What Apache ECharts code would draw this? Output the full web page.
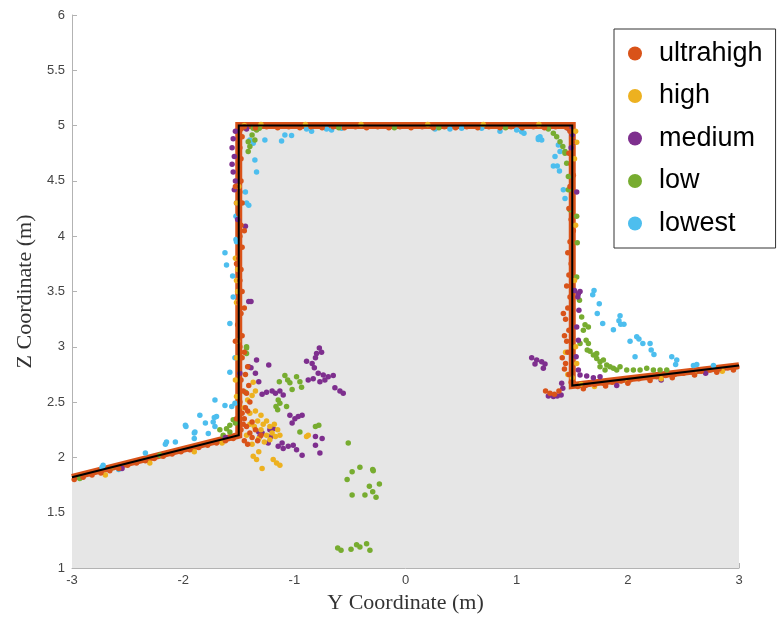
<!DOCTYPE html>
<html>
<head>
<meta charset="utf-8">
<script src="https://cdn.jsdelivr.net/npm/echarts@6/dist/echarts.min.js"></script>
<style>
	html, body { margin: 0; padding: 0; background: #fff; }
	#chart { width: 782px; height: 619px; }
</style>
</head>
<body>
<div id="chart"></div>
<script>
// building outline (y, z)
var outline = [[-3, 1.82], [-1.5, 2.2], [-1.5, 5.0], [1.5, 5.0], [1.5, 2.65], [3, 2.83]];

var ultrahigh = [
	[-2.98, 1.80], [-2.9, 1.82], [-2.82, 1.84], [-2.74, 1.86], [-2.66, 1.88], [-2.58, 1.90], [-2.5, 1.93],
	[-2.42, 1.95], [-2.34, 1.97], [-2.26, 1.99], [-2.18, 2.01], [-2.1, 2.03], [-2.02, 2.05], [-1.94, 2.07],
	[-1.86, 2.09], [-1.78, 2.11], [-1.7, 2.13], [-1.62, 2.15], [-1.55, 2.17],
	[-1.48, 2.25], [-1.46, 2.3], [-1.47, 2.4], [-1.49, 2.5], [-1.46, 2.6], [-1.48, 2.7], [-1.5, 2.8],
	[-1.47, 2.9], [-1.49, 3.0], [-1.47, 3.1], [-1.51, 3.2], [-1.48, 3.3], [-1.5, 3.4], [-1.47, 3.5],
	[-1.49, 3.6], [-1.48, 3.7], [-1.5, 3.8], [-1.47, 3.9], [-1.49, 4.0], [-1.48, 4.1], [-1.5, 4.2],
	[-1.47, 4.3], [-1.49, 4.4], [-1.48, 4.5], [-1.5, 4.6], [-1.48, 4.7], [-1.49, 4.8], [-1.47, 4.9],
	[-1.48, 4.97], [-1.52, 2.35], [-1.44, 2.45], [-1.53, 3.05], [-1.45, 3.35], [-1.52, 3.75],
	[-1.45, 4.05], [-1.53, 4.45],
	[-1.45, 4.99], [-1.35, 4.98], [-1.25, 4.99], [-1.15, 4.98], [-1.05, 4.99], [-0.95, 4.98], [-0.85, 4.99],
	[-0.75, 4.98], [-0.65, 4.99], [-0.55, 4.98], [-0.45, 4.99], [-0.35, 4.98], [-0.25, 4.99], [-0.15, 4.98],
	[-0.05, 4.99], [0.05, 4.98], [0.15, 4.99], [0.25, 4.98], [0.35, 4.99], [0.45, 4.98], [0.55, 4.99],
	[0.65, 4.98], [0.75, 4.99], [0.85, 4.98], [0.95, 4.99], [1.05, 4.98], [1.15, 4.99], [1.25, 4.98],
	[1.35, 4.99], [1.45, 4.98],
	[1.48, 4.95], [1.5, 4.85], [1.47, 4.75], [1.49, 4.65], [1.51, 4.55], [1.48, 4.45], [1.5, 4.35],
	[1.47, 4.25], [1.49, 4.15], [1.51, 4.05], [1.48, 3.95], [1.46, 3.85], [1.49, 3.75], [1.47, 3.65],
	[1.45, 3.55], [1.48, 3.45], [1.46, 3.35], [1.44, 3.25], [1.47, 3.15], [1.45, 3.05], [1.46, 2.95],
	[1.44, 2.85], [1.47, 2.75], [1.49, 2.68], [1.42, 3.3], [1.43, 3.1], [1.41, 2.9], [1.43, 2.8],
	[1.26, 2.6], [1.3, 2.58], [1.34, 2.57], [1.38, 2.6],
	[1.55, 2.64], [1.62, 2.65], [1.7, 2.66], [1.78, 2.67], [1.86, 2.68], [1.94, 2.69], [2.02, 2.70],
	[2.1, 2.71], [2.18, 2.72], [2.26, 2.73], [2.34, 2.74], [2.42, 2.75], [2.5, 2.76], [2.58, 2.77],
	[2.66, 2.78], [2.74, 2.79], [2.82, 2.8], [2.9, 2.81], [2.98, 2.82],
	[1.6, 2.62], [1.8, 2.645], [2.0, 2.67], [2.2, 2.695], [2.4, 2.72], [2.6, 2.745], [2.8, 2.77], [2.95, 2.79],
	[-1.45, 2.15], [-1.42, 2.12], [-1.38, 2.18], [-1.4, 2.22], [-1.35, 2.25], [-1.43, 2.28], [-1.38, 2.32],
	[-1.33, 2.15], [-1.3, 2.2], [-1.45, 2.35], [-1.42, 2.42], [-1.4, 2.5], [-1.43, 2.58], [-1.41, 2.65],
	[-1.44, 2.75], [-1.42, 2.82], [-1.45, 2.95]
];

var high = [
	[-1.52, 3.4], [-1.51, 3.5], [-1.52, 3.6], [-1.51, 3.7], [-1.53, 3.8], [-1.52, 4.3], [-1.5, 4.45],
	[-1.51, 3.05], [-1.52, 2.9], [-1.53, 2.7], [-1.52, 2.55],
	[-1.45, 2.45], [-1.4, 2.4], [-1.35, 2.42], [-1.3, 2.38], [-1.33, 2.33], [-1.28, 2.3], [-1.25, 2.33],
	[-1.22, 2.28], [-1.18, 2.3], [-1.15, 2.25], [-1.2, 2.22], [-1.25, 2.2], [-1.3, 2.25], [-1.36, 2.28],
	[-1.4, 2.3], [-1.32, 2.17], [-1.27, 2.14], [-1.22, 2.16], [-1.17, 2.19], [-1.13, 2.2], [-1.43, 2.2],
	[-1.38, 2.12], [-1.42, 2.52], [-1.38, 2.56], [-1.37, 2.68], [-1.35, 2.6],
	[-1.37, 2.01], [-1.34, 1.98], [-1.29, 1.9], [-1.19, 1.98], [-1.16, 1.95], [-1.13, 1.93], [-1.32, 2.05],
	[-0.89, 2.19], [-0.875, 2.2],
	[-1.3, 5.01], [-0.9, 5.01], [-0.4, 5.01], [0.2, 5.01], [0.7, 5.01], [1.2, 5.01], [-1.45, 5.0],
	[1.53, 4.95], [1.54, 4.85], [1.52, 4.7], [1.53, 4.1], [1.52, 3.6], [1.53, 3.0], [1.54, 2.85],
	[1.46, 2.75], [1.5, 2.72], [1.44, 2.95],
	[1.7, 2.64], [2.0, 2.68], [2.3, 2.71], [2.6, 2.75], [2.85, 2.78], [1.58, 2.66],
	[-2.7, 1.84], [-2.3, 1.95], [-1.9, 2.05], [-1.65, 2.13]
];

var medium = [
	[-1.53, 4.95], [-1.55, 4.88], [-1.56, 4.8], [-1.54, 4.72], [-1.56, 4.65], [-1.55, 4.58], [-1.53, 4.5],
	[-1.54, 4.42], [-1.52, 4.3], [-1.51, 4.15], [-1.44, 4.09], [-1.41, 3.41], [-1.39, 3.41],
	[-1.47, 4.98], [-1.43, 4.97], [-1.49, 2.76], [-1.41, 2.82],
	[-0.775, 2.99], [-0.8, 2.94], [-0.755, 2.95], [-0.89, 2.87], [-0.84, 2.85], [-0.81, 2.9],
	[-0.82, 2.81], [-0.785, 2.76], [-0.74, 2.745], [-0.695, 2.73], [-0.65, 2.74],
	[-0.875, 2.7], [-0.83, 2.71], [-0.77, 2.685], [-0.725, 2.7], [-0.635, 2.63], [-0.59, 2.6], [-0.56, 2.58],
	[-1.34, 2.88], [-1.23, 2.835], [-1.39, 2.81], [-1.35, 2.76], [-1.32, 2.685],
	[-1.29, 2.57], [-1.25, 2.59], [-1.2, 2.6], [-1.17, 2.58], [-1.13, 2.6], [-1.1, 2.565],
	[-1.04, 2.38], [-0.995, 2.35], [-0.965, 2.37], [-0.93, 2.38], [-1.02, 2.31],
	[-1.32, 2.23], [-1.29, 2.22], [-1.31, 2.19], [-1.22, 2.25], [-1.19, 2.26],
	[-1.145, 2.1], [-1.1, 2.08], [-1.055, 2.1], [-1.01, 2.11], [-1.11, 2.13], [-0.98, 2.07], [-0.93, 2.02],
	[-0.81, 2.19], [-0.75, 2.17], [-0.81, 2.11], [-0.77, 2.04], [-1.21, 2.19], [-1.235, 2.13],
	[1.47, 4.97], [1.5, 4.92], [1.52, 4.85], [1.49, 4.8], [1.54, 4.4], [1.52, 3.51], [1.57, 3.5], [1.55, 3.45],
	[1.555, 3.48], [1.56, 3.33], [1.54, 3.18], [1.555, 3.06], [1.535, 2.91], [1.555, 2.79], [1.57, 2.745],
	[1.63, 2.735], [1.69, 2.72], [1.75, 2.73],
	[1.135, 2.9], [1.18, 2.88], [1.225, 2.865], [1.255, 2.845], [1.165, 2.845], [1.24, 2.805],
	[1.285, 2.555], [1.33, 2.55], [1.365, 2.555], [1.4, 2.565], [1.415, 2.625], [1.405, 2.67],
	[2.3, 2.7], [2.7, 2.76], [1.9, 2.65], [-2.55, 1.9], [-1.62, 2.18]
];

var low = [
	[-1.37, 4.975], [-1.34, 4.96], [-1.315, 4.975], [-1.38, 4.915], [-1.355, 4.87], [-1.415, 4.855],
	[-1.4, 4.81], [-1.415, 4.765],
	[1.285, 4.97], [1.33, 4.93], [1.36, 4.9], [1.39, 4.855], [1.415, 4.81], [1.435, 4.765],
	[1.435, 4.75], [1.45, 4.66], [1.465, 4.54], [1.465, 4.42], [1.48, 4.24],
	[1.54, 4.18], [1.545, 3.94], [1.54, 3.63], [1.565, 3.42],
	[1.585, 3.27], [1.615, 3.2], [1.645, 3.18], [1.6, 3.15], [1.625, 3.06], [1.645, 3.03], [1.635, 2.97],
	[1.66, 2.96], [1.69, 2.925], [1.72, 2.895], [1.75, 2.865], [1.78, 2.88], [1.81, 2.835], [1.84, 2.82],
	[1.87, 2.805], [1.9, 2.79], [1.93, 2.82], [1.75, 2.82], [1.795, 2.79], [1.99, 2.79], [2.05, 2.79],
	[2.11, 2.79], [2.17, 2.805], [2.23, 2.79], [2.29, 2.79], [2.35, 2.79], [1.57, 3.03], [1.72, 2.94],
	[-1.43, 3.0], [-1.44, 2.59],
	[-1.67, 2.25], [-1.61, 2.26], [-1.58, 2.29], [-1.55, 2.34], [-1.64, 2.2], [-1.58, 2.23], [-1.53, 2.31],
	[-2.93, 1.81], [-2.66, 1.89], [-2.21, 2.02],
	[-1.085, 2.74], [-1.06, 2.7], [-1.04, 2.675], [-0.98, 2.73], [-0.95, 2.685], [-0.935, 2.635],
	[-1.135, 2.685], [-1.02, 2.615], [-1.145, 2.52], [-1.13, 2.49], [-1.165, 2.46], [-1.07, 2.46],
	[-1.15, 2.43], [-0.81, 2.28], [-0.78, 2.29], [-0.95, 2.23], [-1.43, 2.99], [-1.43, 2.94],
	[-0.515, 2.13], [-0.41, 1.91], [-0.48, 1.87], [-0.295, 1.89], [-0.29, 1.88], [-0.525, 1.8],
	[-0.235, 1.76], [-0.325, 1.74], [-0.295, 1.69], [-0.365, 1.66], [-0.48, 1.66], [-0.265, 1.64],
	[-0.61, 1.18], [-0.58, 1.16], [-0.49, 1.17], [-0.44, 1.21], [-0.41, 1.19], [-0.35, 1.22], [-0.32, 1.16],
	[-0.1, 4.98], [0.3, 4.98], [0.9, 4.98], [-0.6, 4.98]
];

var lowest = [
	[-1.265, 4.87], [-1.115, 4.86], [-1.085, 4.915], [-1.025, 4.91], [-0.89, 4.97], [-0.845, 4.95],
	[-0.71, 4.97], [-0.665, 4.96], [-0.575, 4.975],
	[0.265, 4.97], [0.4, 4.97], [0.505, 4.975], [0.685, 4.975], [0.85, 4.95], [1.0, 4.96], [1.045, 4.945],
	[1.066, 4.93], [1.195, 4.89], [1.225, 4.87], [1.375, 4.825],
	[1.21, 4.9], [1.195, 4.875], [1.345, 4.72], [1.39, 4.765], [1.33, 4.635], [1.365, 4.635], [1.385, 4.59],
	[1.42, 4.42], [1.435, 4.34],
	[1.696, 3.51], [1.684, 3.47], [1.743, 3.39], [1.725, 3.3], [1.774, 3.21], [1.93, 3.28], [1.92, 3.235],
	[1.936, 3.205], [1.965, 3.205], [1.87, 3.155], [2.02, 3.05], [2.08, 3.09], [2.1, 3.07], [2.135, 3.03],
	[2.2, 3.03], [2.21, 2.97], [2.235, 2.93], [2.065, 2.91], [2.395, 2.91], [2.44, 2.88], [2.43, 2.84],
	[2.59, 2.83], [2.62, 2.84], [2.77, 2.83],
	[-1.624, 3.85], [-1.61, 3.74], [-1.555, 3.64], [-1.55, 3.45], [-1.525, 3.97], [-1.52, 3.95], [-1.525, 4.18],
	[-1.4, 4.87], [-1.37, 4.84], [-1.355, 4.69], [-1.34, 4.58], [-1.44, 4.4], [-1.43, 4.3], [-1.41, 4.28],
	[-1.58, 3.21], [-1.534, 2.9], [-1.58, 2.77],
	[-1.714, 2.52], [-1.624, 2.47], [-1.563, 2.46], [-1.7, 2.37], [-1.73, 2.32], [-1.8, 2.31], [-1.85, 2.38],
	[-1.894, 2.23], [-1.774, 2.215], [-1.534, 2.49], [-1.72, 2.36], [-1.714, 2.28], [-1.9, 2.22], [-1.9, 2.17],
	[-1.98, 2.29], [-1.975, 2.28], [-2.07, 2.14], [-2.15, 2.14], [-2.16, 2.12], [-2.34, 2.04],
	[-2.72, 1.93], [-2.73, 1.91], [-2.58, 1.89]
];

var names = ['ultrahigh', 'high', 'medium', 'low', 'lowest'];
var colors = ['#D95319', '#EDB120', '#7E2F8E', '#77AC30', '#4DBEEE'];

var chart = echarts.init(document.getElementById('chart'));

var axisLine = { show: true, onZero: false, lineStyle: { color: '#b3b3b3', width: 1 } };
var serif = '"Liberation Serif", "DejaVu Serif", serif';
var sans = '"Liberation Sans", Arial, sans-serif';

function pts(name, idx, data) {
	return {
		name: name,
		type: 'scatter',
		data: data,
		symbolSize: 5.5,
		itemStyle: { color: colors[idx], opacity: 1 },
		z: 3
	};
}

var option = {
	animation: false,
	backgroundColor: '#fff',
	grid: { left: 72, right: 43, top: 15, bottom: 51 },
	legend: {
		data: names,
		orient: 'vertical',
		left: 614,
		top: 29,
		padding: [11, 13, 11, 14],
		itemGap: 15.5,
		itemWidth: 14,
		itemHeight: 14,
		icon: 'circle',
		backgroundColor: '#fff',
		borderColor: '#333',
		borderWidth: 1,
		textStyle: { fontFamily: sans, fontSize: 27, color: '#000', padding: [0, 0, 0, 12] }
	},
	xAxis: {
		type: 'value',
		min: -3,
		max: 3,
		interval: 1,
		name: 'Y Coordinate (m)',
		nameLocation: 'middle',
		nameGap: 24,
		nameTextStyle: { fontFamily: serif, fontSize: 22, color: '#333' },
		axisLine: axisLine,
		axisTick: { show: true, inside: true, length: 5, lineStyle: { color: '#b3b3b3' } },
		axisLabel: { fontFamily: sans, fontSize: 13, color: '#444', margin: 6 },
		splitLine: { show: false }
	},
	yAxis: {
		type: 'value',
		min: 1,
		max: 6,
		interval: 0.5,
		name: 'Z Coordinate (m)',
		nameLocation: 'middle',
		nameGap: 34,
		nameTextStyle: { fontFamily: serif, fontSize: 22, color: '#333' },
		axisLine: axisLine,
		axisTick: { show: true, inside: true, length: 5, lineStyle: { color: '#b3b3b3' } },
		axisLabel: { fontFamily: sans, fontSize: 13, color: '#444', margin: 7 },
		splitLine: { show: false }
	},
	series: [
		{
			name: 'ground',
			type: 'line',
			data: outline,
			showSymbol: false,
			lineStyle: { width: 0 },
			areaStyle: { color: '#e6e6e6', opacity: 1, origin: 'start' },
			silent: true,
			z: 1
		},
		{
			name: 'band',
			type: 'line',
			data: outline,
			showSymbol: false,
			lineStyle: { color: '#D95319', width: 7, join: 'miter' },
			silent: true,
			z: 2
		},
		pts('lowest', 4, lowest),
		pts('low', 3, low),
		pts('medium', 2, medium),
		pts('high', 1, high),
		pts('ultrahigh', 0, ultrahigh),
		{
			name: 'outline',
			type: 'line',
			data: outline,
			showSymbol: false,
			lineStyle: { color: '#000', width: 2, join: 'miter' },
			silent: true,
			z: 5
		}
	]
};

chart.setOption(option);
</script>
</body>
</html>
